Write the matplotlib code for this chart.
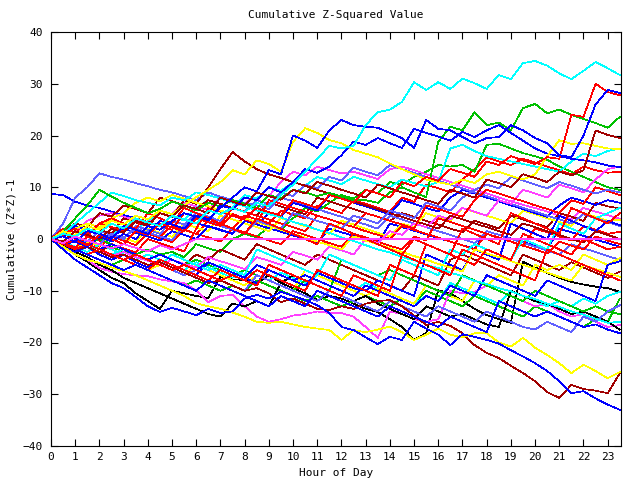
"""
Cumulative Z-squared value per hour of day (gnuplot style recreation)
"""
import numpy as np
import matplotlib
matplotlib.use('Agg')
import matplotlib.pyplot as plt

# half-hour steps, 0 .. 23.5
hours = np.arange(48) * 0.5

# gnuplot-like palette
RED = '#ff0000'
GREEN = '#00c000'
BLUE = '#0000ff'
MAGENTA = '#ff40ff'
CYAN = '#00ffff'
DARKRED = '#a00000'
YELLOW = '#ffff00'
BLACK = '#000000'
MEDBLUE = '#6060ff'

cyan_top = [0, 1, 0.5, 2, 1.2, 3, 2, 4,
            3.2, 2.5, 4.5, 3.8, 3, 5.5, 4.8, 6,
            5.2, 7, 6.3, 8.5, 10.5, 13, 15.5, 18,
            17.5, 18, 22, 24.5, 25, 26.5, 30.3, 28.8,
            30.3, 29, 31, 30.1, 29, 31.7, 30.9, 34,
            34.4, 33.5, 32, 30.9, 32.5, 34.2, 33, 31.7]
blue_top1 = [0, 0.5, -0.5, 1.5, 1, 0, 2.5, 1.8,
             1, 3.5, 2.8, 2, 4.5, 3.8, 6, 8,
             10, 9.2, 13.3, 12.5, 20, 19, 17.6, 21,
             23, 22, 21.7, 21.5, 20.5, 19.5, 17.6, 23,
             21.3, 21, 19.7, 18.5, 19.5, 19.7, 22, 21,
             19.5, 18.5, 16.2, 15.8, 20, 26, 28.8, 28.2]
blue_top2 = [0, -1, -0.5, -1.5, 0.5, -0.5, 1, 0,
             2.5, 1.8, 3.5, 5, 4.3, 3.5, 6.5, 5.8,
             8, 7.5, 10, 9, 11, 13.5, 12.8, 14,
             16.2, 18.8, 18.2, 19.5, 18.5, 17.6, 21.3, 20.5,
             19.8, 19, 20.7, 19.7, 21, 22, 20.5, 19,
             17.5, 16.5, 16, 15.5, 15.2, 14.8, 14.2, 13.9]
green_jump = [0, 1.5, 4, 6.5, 9.5, 8.2, 7, 6,
              5, 5.8, 7.2, 6.5, 5.5, 7, 6.3, 7.5,
              6.8, 6, 8.5, 7.8, 9.5, 9, 8.3, 8.9,
              8.2, 7.5, 7.5, 7, 9, 10, 9, 8.1,
              18.8, 21.7, 21, 24.5, 22, 22.5, 21, 25.3,
              26.1, 24.3, 25, 24, 23.2, 22.4, 21.5, 23.6]
green_2 = [0, -0.8, -1.5, -1, -2, -1.5, -2.5, -3,
           -2, -3, -2.5, -3.5, -1, -1.8, -2.5, 0,
           1, 0.3, 2.5, 1.8, 4, 6, 5.3, 7,
           8.5, 7.8, 9.5, 8.8, 11, 10.5, 12, 13,
           14.3, 14, 14.3, 13, 18.2, 18.4, 17.5, 16.6,
           16, 15.3, 14, 13, 12, 11, 10, 9.5]
red_late = [0, -1, -0.2, -1.2, 0.8, 0, -1, 1.5,
            0.8, 3, 2.2, 1.5, 4, 3.2, 2.5, 4.8,
            4, 6, 5.2, 4.5, 7.5, 6.8, 6, 8.5,
            7.8, 7, 9.5, 8.8, 8, 11, 10.2, 12,
            11.2, 13.5, 12.8, 12, 15, 14.3, 16, 15.2,
            14.5, 15.8, 15.5, 24, 23.6, 30, 28.4, 27.8]
darkred_end = [0, -0.5, 1.5, 0.8, 0, 2, 1.2, 3.5,
               2.8, 5, 4.2, 6.5, 5.8, 5, 8, 7.2,
               6.5, 9, 8.3, 7.6, 9.5, 8.8, 11, 10.3,
               9.5, 8.8, 8, 10.5, 9.8, 9, 8.3, 7.5,
               6.8, 9.5, 8.8, 8, 11.5, 10.8, 10, 12.5,
               11.8, 11, 13, 12.3, 13.3, 21, 20.1, 19.5]
darkred_peak = [0, -0.8, 0.5, 2.5, 1.8, 1, 4, 3.2,
                2.5, 5, 4.3, 7.5, 6.8, 10, 13.5, 16.8,
                15, 13.5, 12.5, 11.8, 11, 10.3, 9.5, 8.8,
                8, 7.3, 6.5, 5.8, 5, 4.3, 3.5, 2.8,
                2, 4.5, 3.8, 3, 2.3, 1.5, 0.8, 3,
                2.3, 1.5, 0.8, 0, -0.7, 1.5, 0.8, 0]
medblue_1 = [0, 3, 8, 10, 12.7, 12, 11.5, 10.8,
             10.2, 9.5, 9, 8.3, 7.5, 9, 8.2, 7.5,
             7, 6.5, 5.8, 8, 7.3, 6.5, 5.8, 5,
             4.3, 3.5, 2.8, 2, 4.5, 3.8, 3, 2.3,
             1.5, 0.8, 0, -0.8, 1.5, 0.8, 0, -0.7,
             -1.5, -2.2, -3, -1, -1.8, -2.5, -3.3, -4]
medblue_2 = [0, -1, 0.5, -0.5, 1.5, 0.8, 0, 2.5,
             1.8, 1, 3.5, 2.8, 5, 4.3, 3.5, 6,
             5.3, 7.5, 6.8, 9, 8.3, 10.5, 9.8, 12,
             11.3, 13.8, 13, 12.3, 14.3, 13.5, 12.8, 12,
             11.3, 10.5, 9.8, 9, 8.3, 7.5, 6.8, 6,
             5.3, 4.5, 3.8, 3, 4.8, 4, 3.3, 2.5]
magenta_1 = [0, 2, 1.3, 3.5, 4.5, 5, 4.3, 3.6,
             3, 5.5, 4.8, 7, 6.3, 5.6, 8, 7.3,
             6.6, 9, 8.3, 11, 13, 12.3, 14, 13.3,
             12.7, 13, 12.3, 11.6, 13.5, 14, 13.3, 12.5,
             11.8, 11, 10.3, 9.5, 8.8, 8, 7.3, 6.6,
             6, 5.3, 4.5, 3.8, 6, 5.3, 4.6, 3.9]
magenta_2 = [0, -1, -2, -1.5, -2.5, -3.3, -2.5, -3.5,
             -4.2, -5, -4, -4.8, -5.5, -3.5, -4.3, -5,
             -5.8, -3.5, -4.2, -5, -2.5, -3.2, -4, -1.5,
             -2.2, -3, 0, -0.8, 1.5, 0.8, 3, 2.3,
             4.5, 3.8, 6, 5.3, 4.5, 7.5, 6.8, 9.5,
             8.8, 8, 10.5, 9.8, 9, 11.5, 13.5, 14]
magenta_flat = [0, -0.8, 0.5, -0.3, -1, -1.8, -1, -1.7,
                -2.4, -1.2, -2, -1, 0, 0, 0, 0,
                0, 0, 0, 0, 0, 0, 0, 0,
                0, 0, 0, 0, 0, 0, 0, 0,
                0, 0, 0, 0, 0, 0, 0, 0,
                0, 0, 0, 0, 0, 0, 0, 0]
magenta_low = [0, -1.5, -3, -4, -5.6, -6.3, -6.8, -7,
               -7.2, -7.8, -8.2, -8.5, -10, -12.2, -11, -10.8,
               -13, -15, -16, -15.5, -14.8, -14.5, -14, -14.3,
               -14.3, -15, -17, -19.1, -14, -14.5, -15.5, -16,
               -15.5, -10, -10.5, -10.2, -9, -10, -11, -12,
               -13, -12.5, -14, -15, -14.5, -16, -17, -16.6]
blue_bottom = [0, -2, -4, -5.5, -7, -8.5, -9.5, -11.2,
               -13, -14.1, -13.3, -14, -14.7, -13.5, -14.3, -14,
               -11.5, -10.8, -11.5, -10.2, -11, -11.8, -12.8, -14.3,
               -17, -17.6, -19, -20.3, -18.9, -19.5, -16, -17.3,
               -18.5, -20.5, -18.4, -18.9, -19.5, -20.2, -21.5, -22.7,
               -24, -25.5, -27.5, -29.8, -29.4, -30.8, -32, -33]
darkred_bottom = [0, -1, -2, -1.5, -2.5, -3.5, -3, -4,
                  -5, -4.5, -5.5, -6.5, -7.5, -8.5, -8, -9,
                  -10, -9.5, -10.5, -12.2, -11.5, -12.5, -13.5, -13.7,
                  -13, -13.5, -12.5, -12, -11.8, -13, -14.8, -16.6,
                  -16, -16.8, -18.2, -20.5, -22, -23, -24.5, -25.9,
                  -27.5, -29.6, -30.7, -28.2, -29, -29.3, -29.8, -25.9]
yellow_bottom = [0, -1.5, -3, -4, -4.6, -5.5, -6.2, -7,
                 -8, -9, -10, -11, -12.4, -13, -13.5, -14.2,
                 -15, -16, -16.2, -16, -16.5, -17, -17.3, -17.6,
                 -19.5, -17.6, -18, -17.5, -16.9, -18, -19.5, -18.5,
                 -17.3, -18.5, -19, -18.2, -18.2, -20, -20.8, -19.1,
                 -21, -22.4, -24, -25.9, -24.3, -25.5, -26.9, -25.7]
black_a = [0, -1.5, -3, -4.4, -6, -7.5, -8.5, -10.5,
           -12, -13.5, -10, -10.5, -11, -11.4, -7.3, -7.8,
           -7.9, -8.5, -7, -8.5, -9.5, -10.5, -11.8, -11,
           -11.5, -12.5, -13.5, -14.1, -15.5, -17, -19.5, -18.2,
           -9.9, -10.5, -12, -13.5, -14.7, -15.5, -16.2, -4.4,
           -5.5, -6.6, -7.5, -8.3, -8.8, -9.2, -9.5, -10.2]
black_b = [0, -1, -2.5, -3.5, -5, -6, -7.5, -8.5,
           -9.5, -10.5, -11.5, -12.5, -13.5, -14.5, -15, -12.5,
           -13, -12, -13, -8.5, -7, -8, -9, -10,
           -11, -12, -11, -12.5, -13.5, -14.5, -15.5, -13,
           -14, -15, -14.5, -15.5, -16.5, -17, -10, -11,
           -12, -12.5, -13.5, -14.5, -14, -15, -16, -17.5]
cyan_mid = [0, 1, 0.3, -0.5, 1.5, 0.8, 2.5, 1.8,
            3.5, 5, 4.3, 3.6, 6, 7.5, 6.8, 6,
            8.5, 7.8, 10, 9.3, 11, 10.3, 12, 11.3,
            10.6, 12, 11.3, 10.6, 10, 11.5, 10.8, 10.2,
            11, 17.5, 18.2, 17, 16, 15.5, 15, 14.5,
            14, 13.5, 13, 15, 16.5, 16, 17, 17.5]
yellow_top = [0, 1.5, 0.8, 2.5, 1.8, 3.5, 2.8, 4.5,
              3.8, 5.5, 4.8, 6.5, 8.1, 9.5, 11, 13.3,
              12.5, 15.2, 14.5, 13, 18.8, 21.4, 20.5, 19.1,
              18.5, 17.2, 16.5, 15.8, 14.6, 13.5, 12.5, 11.5,
              11, 10.5, 11.5, 10.8, 12.5, 13, 12.2, 11.5,
              12.5, 16, 19.1, 18.4, 18.5, 18, 17.5, 17.4]
red_1 = [0, -1, 0.5, -0.5, -1.5, 0.5, -0.3, -1.2,
         1, 0.2, -0.6, 1.8, 1, 3.5, 2.7, 2,
         4.5, 3.8, 3, 5.5, 4.7, 4, 6.5, 5.8,
         5, 7.5, 6.8, 6, 5.3, 8, 7.2, 10.5,
         9.8, 9, 11.5, 13.5, 15.8, 15, 14.3, 15.5,
         14.8, 14, 13.3, 12.5, 14, 13.3, 12.8, 13]
blue_3 = [0, 1, 2.5, 1.8, 1, 0.3, 2, 1.2,
          0.5, -0.3, 1.5, 0.8, 0, 2.5, 1.8, 1,
          3.5, 2.8, 5, 4.3, 7, 6.3, 5.5, 8.5,
          7.8, 7, 6.3, 5.5, 4.8, 7.5, 6.8, 6,
          5.3, 8, 9.5, 8.8, 8, 7.3, 6.5, 5.8,
          5, 4.3, 6.5, 8, 7.3, 6.6, 7.5, 7]
darkred_2 = [0, 1.5, 3, 2.3, 5, 4.3, 6.5, 5.8,
             5, 8, 7.3, 6.5, 5.8, 7.5, 6.8, 6,
             5.3, 4.5, 7, 6.3, 5.5, 4.8, 8, 7.3,
             6.5, 5.8, 5, 4.3, 3.5, 5, 4.3, 3.5,
             2.8, 2, 1.3, 3.5, 2.8, 2, 4.5, 3.8,
             3, 2.3, 5, 4.3, 3.5, 7, 6.3, 5.9]
yellow_2 = [0, -1, -1.8, -0.5, -1.3, 1, 0.2, -0.6,
            2, 1.2, 0.4, 3, 2.2, 1.5, 4.5, 3.8,
            3, 2.3, 1.5, 4, 3.3, 2.5, 1.8, 1,
            3.5, 2.8, 2, 1.2, 0.5, 3, 2.3, 5,
            4.2, 3.5, 6, 5.2, 4.5, 3.8, 3, 5.5,
            4.8, 4, 3.3, 2.5, 5, 4.3, 3.5, 3.7]
blue_4 = [0, -1.5, -2.5, -1.5, -3, -4, -3, -4.5,
          -5.5, -4, -5, -6, -7, -4.5, -5.5, -6.5,
          -7.5, -8.5, -6, -7, -8, -9, -6.5, -7.5,
          -8.5, -9.5, -10, -8, -9, -10, -11, -3,
          -4, -5, -6, -2, -3, -4, 3, 2,
          1, 0, 4.5, 3.5, 2.5, 1.5, 3.5, 2.7]
red_2 = [0, 0.8, 2.5, 1.8, 1, 3.5, 2.8, 2,
         1.3, 0.5, 2.5, 1.8, 1, 0.3, -0.5, 2,
         1.3, 0.5, -0.3, -1, 1.5, 0.8, 0, -0.8,
         -1.5, 1, 0.3, -0.5, -1.3, -2, 0.5, -0.3,
         4, 3.3, 2.5, 1.8, 1, 0.3, -0.5, -1.2,
         2, 1.3, 0.5, -0.3, 2.5, 1.8, 1, 1.4]
red_3 = [0, -0.8, -1.6, 0.5, -0.3, -1, -1.8, -2.6,
         0, -0.8, -1.6, -2.4, 2, 6, 5.3, 4.5,
         3.8, 3, 7.5, 6.8, 6, 5.3, 4.5, 3.8,
         3, 2.3, 1.5, 0.8, 0, 2.5, 1.8, 1,
         0.3, -0.5, -1.2, -2, 1, 0.2, -0.5, -1.3,
         -2, -2.8, -0.5, -1.3, -2, 0.5, -0.3, -1]
yellow_3 = [0, -1, -2, -3, -2, -3, -4, -5,
            -6, -5, -6, -7, -5, -6, -7, -8,
            -9, -7, -8, -9, -10, -6, -7, -8,
            -9, -10, -11, -9.5, -10.5, -11.5, -12.5, -9,
            -10, -11, -12, -8, -9, -7, -8, -9,
            -5, -6, -5, -6, -3, -4, -5, -3.7]
blue_5 = [0, 1, 0, -1, -2, -1, -2, -3,
          -4, -3, -4, -5, -6, -4.5, -5.5, -6.5,
          -7.5, -5, -6, -7, -8, -7, -8, -9,
          -10, -11, -9, -10, -11, -12, -13, -11,
          -12, -9, -10, -11, -7, -8, -9, -10,
          -11, -8, -9, -10, -11, -12, -5, -4.3]
darkred_3 = [0, -1, -0.5, -1.5, -2.5, -1, -2, -3,
             -4, -3, -4, -5, -3, -4, -2, -3,
             -4, -1, -2, -3, -4, -5, -3, -4,
             -5, -6, -7, -8, -9, -10, -7, -8,
             -9, -4, -3, -4, -5, -6, -7, -3,
             -4, -5, -6, -4.5, -5.5, -6.5, -7.5, -6.3]
cyan_3 = [0, -0.5, -1.5, -2.5, -1, -2, -3, -4,
          -3, -4, -5, -6, -4.5, -5.5, -6.5, -7.5,
          -6, -7, -8, -6.5, -7.5, -8.5, -7, -8,
          -9, -10, -8.5, -9.5, -10.5, -11.5, -12.5, -11,
          -12, -8.5, -9.5, -10.5, -11.5, -12.5, -10, -11,
          -12, -13, -12, -13, -11.5, -12.5, -11, -10.2]
green_3 = [0, -1, -2, -3, -4, -5, -4, -5,
           -6, -7, -8, -9, -8, -9, -10, -9,
           -10, -8, -9, -10, -11, -12, -11, -12,
           -13, -12, -11, -12, -13, -11.5, -12.5, -10,
           -11, -12, -13, -11, -12, -13, -14, -15,
           -13, -14, -15, -16, -17, -15.5, -16, -11.5]
medblue_3 = [0, -1, -2, -1, -2, -3, -4, -3,
             -4, -5, -6, -7, -6, -7, -8, -9,
             -10, -7, -8, -9, -10, -11, -12, -10,
             -11, -12, -13, -14, -12, -13, -14, -15,
             -13, -14, -15, -16, -14, -15, -16, -17,
             -17.5, -16, -17, -18, -15, -16, -14, -12.8]
blue_6 = [0, -1, -2, -3, -4, -5, -6, -5,
          -6, -7, -8, -9, -10, -8, -9, -10,
          -11, -12, -13, -11, -12, -13, -10, -11,
          -12, -13, -14, -15, -13, -14, -15, -16,
          -17, -15, -16, -17, -18, -12, -13, -14,
          -15, -14, -15, -16, -17, -16.5, -17.5, -18.2]
red_4 = [0, 2, 1.3, 0.5, 3, 2.3, 1.5, 4,
         3.3, 2.5, 1.8, 5, 4.3, 3.5, 2.8, 6,
         5.3, 4.5, 3.8, 3, 2.3, 1.5, 4.5, 3.8,
         3, 2.3, 5, 4.3, 3.5, 2.8, 2, 6.5,
         5.8, 5, 4.3, 7.5, 9.5, 8.8, 8, 7.3,
         6.5, 5.8, 5, 7.5, 6.8, 10, 9.3, 8.5]
medblue_4 = [0, -1, 0.5, -0.3, -1, 1, 0.3, 2,
             1.3, 0.5, -0.2, 2.5, 4, 3.3, 2.5, 1.8,
             1, 3.5, 2.8, 2, 5, 4.3, 3.5, 2.8,
             2, 4.5, 3.8, 3, 5.5, 4.8, 4, 7,
             6.3, 5.5, 8, 9.5, 10.5, 9.8, 12, 11.3,
             10.5, 9.8, 11, 10.3, 9.5, 8.8, 9.5, 9]
red_5 = [0, -1, -2, -3, -2, -3, -4, -5,
         -6, -4, -5, -6, -7, -8, -6, -7,
         -8, -9, -5, -6, -7, -8, -9, -10,
         -11, -7, -8, -9, -10, -3, -4, -5,
         -6, -7, -2, -3, -4, -5, -6, -7,
         -8, -2, -3, -4, -5, -6, -7, -8]
red_6 = [0, -1, -2, -1, -2, -3, -4, -3,
         -4, -5, -6, -5, -6, -7, -8, -7,
         -8, -6, -7, -8, -9, -10, -6, -7,
         -8, -9, -10, -11, -5, -6, -7, -1,
         -2, -3, 2, 1, 0, -1, 5, 4,
         3, 2, 1, 6, 5, 4, 3, 5]
red_7 = [0, 1, 2, 1, 3, 4, 3, 2,
         5, 4, 3, 6, 5, 4, 3, 2,
         1, 4, 3, 2, 1, 0, -1, 3,
         2, 1, 0, -1, -2, -3, 0, -1,
         -2, -3, -4, -5, -2, -3, -4, 1,
         0, -1, -2, -3, 0, -1, -2, -1.5]
green_5 = [0, -1, -2, -1, 0, -1, -2, -3,
           -2, -3, -4, -5, -4, -5, -6, -7,
           -6, -7, -8, -9, -10, -8, -9, -10,
           -4, -5, -6, -7, -6, -7, -8, -9,
           -10, -11, -7, -8, -9, -10, -11, -12,
           -10, -11, -12, -13, -14, -13, -14, -14.5]
cyan_4 = [0, -1, -2, -1, -2, -3, -2, -3,
          -4, -5, -3, -4, -5, -6, -5, -6,
          -7, -2, -3, -4, -5, -6, -7, -3,
          -4, -5, -6, -7, -8, -4, -5, -6,
          -7, -2, -3, -1, -2, -3, -4, 0,
          -1, -2, 3, 2, 1, 4, 5, 6]
cyan_5 = [0, 1, 3, 5, 7, 9, 8.3, 7.5,
          7, 6.5, 8, 7.5, 9, 8.5, 7.8, 7,
          6.3, 5.5, 4.8, 4.2, 3.3, 2.7, 1.8, 1.2,
          0.3, -0.4, -1.2, -2, -2.6, -3.5, -4.1, -5,
          -5.6, -6.5, -7.2, -8.1, -8.7, -9.5, -10.1, -11,
          -11.6, -12.5, -13.1, -14, -14.6, -15.4, -16.2, -16]
yellow_4 = [0, 1, 2, 3, 2.3, 4, 5, 7,
            8, 7.3, 8.5, 7.8, 7, 6.3, 5.5, 4.8,
            4, 3.3, 2.5, 1.8, 1, 0.3, -0.5, -1.2,
            -2, 0.5, -0.3, -1, -1.8, -2.5, -3.3, -4,
            -4.8, -5.5, -6.3, -2, -2.8, -3.5, -4.3, -5,
            -5.8, -6.5, -7.3, -8, -5, -5.8, -6.5, -7.3]
blue_0 = [8.7, 8.5, 7.2, 6.5, 6, 5.3, 4.6, 4,
          3.3, 2.6, 4.5, 3.8, 3.1, 2.4, 1.7, 1,
          3.5, 2.8, 2.1, 1.4, 0.7, 0, -0.7, 2,
          1.3, 0.6, -0.1, -0.8, 3, 2.3, 1.6, 0.9,
          0.2, -0.5, -1.2, -1.9, 1.5, 0.8, 0.1, -0.6,
          -1.3, -2, 2, 1.3, 0.6, -0.1, -0.8, -1.5]

series = [
    (red_1, RED), (green_2, GREEN), (blue_0, BLUE), (magenta_1, MAGENTA),
    (cyan_mid, CYAN), (darkred_2, DARKRED), (yellow_2, YELLOW), (black_a, BLACK),
    (medblue_1, MEDBLUE), (red_2, RED), (green_3, GREEN), (blue_3, BLUE),
    (magenta_low, MAGENTA), (cyan_3, CYAN), (darkred_3, DARKRED), (yellow_3, YELLOW),
    (black_b, BLACK), (medblue_2, MEDBLUE), (red_3, RED), (green_5, GREEN),
    (blue_4, BLUE), (magenta_2, MAGENTA), (cyan_4, CYAN), (darkred_peak, DARKRED),
    (yellow_4, YELLOW), (medblue_3, MEDBLUE), (red_4, RED), (blue_5, BLUE),
    (cyan_5, CYAN), (darkred_bottom, DARKRED), (yellow_bottom, YELLOW),
    (medblue_4, MEDBLUE), (red_5, RED), (blue_6, BLUE), (red_6, RED),
    (red_7, RED), (blue_bottom, BLUE), (green_jump, GREEN), (blue_top2, BLUE),
    (yellow_top, YELLOW), (darkred_end, DARKRED), (red_late, RED),
    (blue_top1, BLUE), (cyan_top, CYAN), (magenta_flat, MAGENTA),
]

font = 'DejaVu Sans Mono'

fig = plt.figure(figsize=(6.4, 4.8), dpi=100, facecolor='white')
ax = fig.add_axes([51 / 640, 34 / 480, 570 / 640, 414 / 480])

for values, color in series:
    ax.plot(hours, values, color=color, linewidth=0.5, antialiased=False)

ax.set_xlim(0, 23.55)
ax.set_ylim(-40, 40)
ax.set_xticks(range(24))
ax.set_yticks(range(-40, 41, 10))
ax.tick_params(direction='in', length=5, width=0.8, top=True, right=True,
               labelsize=8)
ax.tick_params(axis='x', pad=4)
ax.tick_params(axis='y', pad=6)
for lbl in ax.get_xticklabels() + ax.get_yticklabels():
    lbl.set_family(font)
for sp in ax.spines.values():
    sp.set_linewidth(0.8)

fig.text(336 / 640, 1 - 15 / 480, 'Cumulative Z-Squared Value',
         ha='center', va='center', fontsize=8, family=font)
fig.text(336 / 640, 1 - 473 / 480, 'Hour of Day',
         ha='center', va='center', fontsize=8, family=font)
fig.text(12 / 640, 1 - 239 / 480, 'Cumulative (Z*Z)-1', rotation=90,
         ha='center', va='center', fontsize=8, family=font)

fig.savefig('out.png', dpi=100, facecolor='white')
